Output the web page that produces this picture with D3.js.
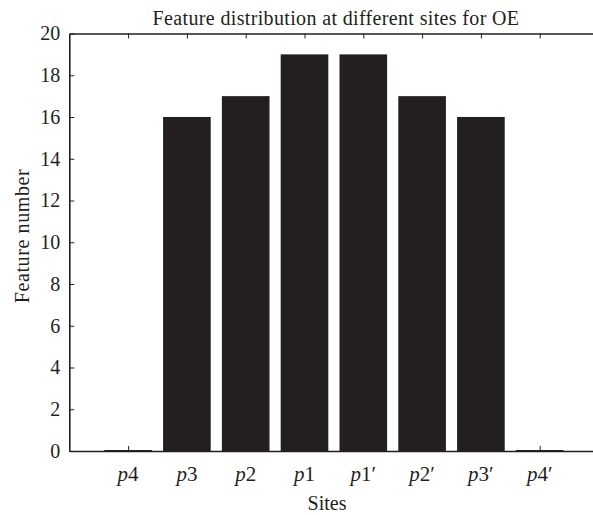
<!DOCTYPE html>
<html>
<head>
<meta charset="utf-8">
<script src="https://cdn.jsdelivr.net/npm/d3@7"></script>
<style>
  body { margin: 0; background: #fff; }
  svg { display: block; }
  text { font-family: "Liberation Serif", "Times New Roman", serif; fill: #231f20; }
</style>
</head>
<body>
<svg id="chart" width="593" height="515"></svg>
<script>
const sites = ["p4", "p3", "p2", "p1", "p1'", "p2'", "p3'", "p4'"];
const featureCounts = [0, 16, 17, 19, 19, 17, 16, 0];
const yTicks = [0, 2, 4, 6, 8, 10, 12, 14, 16, 18, 20];
const titleText = "Feature distribution at different sites for OE";
const xTitle = "Sites";
const yTitle = "Feature number";

(function () {
const plotLeft = 69.3, plotTop = 33.5, plotBottom = 451;
const step = 58.8;
const svg = d3.select("#chart");
const ink = "#231f20";

const x = d3.scaleLinear().domain([0, sites.length + 1]).range([plotLeft, plotLeft + step * (sites.length + 1)]);
const y = d3.scaleLinear().domain([0, 20]).range([plotBottom, plotTop]);
const barW = 0.81;

// bars
svg.append("g").selectAll("rect").data(featureCounts).join("rect")
  .attr("x", (d, i) => x(i + 1 - barW / 2))
  .attr("width", x(barW) - x(0))
  .attr("y", d => y(d))
  .attr("height", d => Math.max(0, y(0) - y(d)))
  .attr("fill", ink);
// zero-height bars drawn as thick baseline segments
svg.append("g").selectAll("line").data(featureCounts.map((d, i) => ({d, i})).filter(o => o.d === 0)).join("line")
  .attr("x1", o => x(o.i + 1 - barW / 2)).attr("x2", o => x(o.i + 1 + barW / 2))
  .attr("y1", y(0)).attr("y2", y(0))
  .attr("stroke", ink).attr("stroke-width", 2.2);

// axes (ticks inward)
const yAxis = d3.axisLeft(y).tickValues(yTicks).tickSizeInner(-5).tickSizeOuter(0).tickPadding(9);
const gy = svg.append("g").attr("transform", `translate(${plotLeft},0)`).call(yAxis);
gy.selectAll("text").style("font-size", "20px").attr("fill", ink);

const cats = d3.range(1, sites.length + 1);
const xAxisB = d3.axisBottom(x).tickValues(cats).tickSizeInner(-5).tickSizeOuter(0).tickFormat("");
const gb = svg.append("g").attr("transform", `translate(0,${plotBottom})`).call(xAxisB);
const xAxisT = d3.axisTop(x).tickValues(cats).tickSizeInner(-5).tickSizeOuter(0).tickFormat("");
const gt = svg.append("g").attr("transform", `translate(0,${plotTop})`).call(xAxisT);

[gy, gb, gt].forEach(g => {
  g.selectAll("path.domain").attr("stroke", ink).attr("stroke-width", 1.6);
  g.selectAll(".tick line").attr("stroke", ink).attr("stroke-width", 1);
});

// bottom tick labels: italic p, upright digit, prime
const lab = svg.append("g").selectAll("text").data(sites).join("text")
  .attr("x", (d, i) => x(i + 1))
  .attr("y", 481)
  .attr("text-anchor", "middle")
  .style("font-size", "21px");
lab.append("tspan").style("font-style", "italic").text(d => d[0]);
lab.append("tspan").text(d => d[1]);
lab.filter(d => d.endsWith("'")).append("tspan").text("\u2032");

// titles
svg.append("text").attr("x", 336).attr("y", 25).attr("text-anchor", "middle")
  .style("font-size", "20px").style("letter-spacing", "0.35px").text(titleText);
svg.append("text").attr("x", 327).attr("y", 510).attr("text-anchor", "middle")
  .style("font-size", "20px").text(xTitle);
svg.append("text").attr("transform", "translate(29,236) rotate(-90)").attr("text-anchor", "middle")
  .style("font-size", "20px").style("letter-spacing", "0.6px").text(yTitle);
})();
</script>
</body>
</html>
